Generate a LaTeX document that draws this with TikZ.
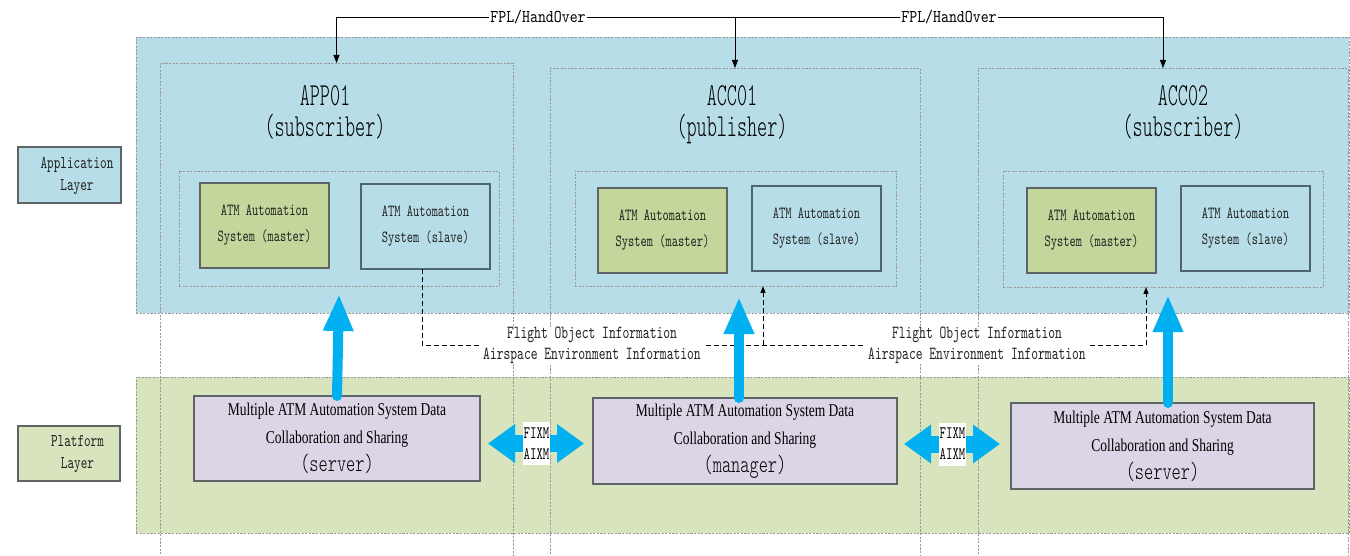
\documentclass[tikz,border=0pt]{standalone}
\usepackage{fontspec}
\usetikzlibrary{arrows.meta,calc}

% condensed typewriter and serif faces
\newfontfamily\fmono[Extension=.otf, FakeStretch=0.7]{lmmono10-regular}
\newfontfamily\ftitle[Extension=.otf, FakeStretch=0.6]{lmmonolt10-regular}
\newfontfamily\fbig[Extension=.otf, FakeStretch=0.7]{lmmonolt10-regular}
\newfontfamily\ffpl[Extension=.otf, FakeStretch=0.84]{lmmono10-regular}
\newfontfamily\fserif[FakeStretch=0.75]{Liberation Serif}

\definecolor{bandblue}{HTML}{B7DDE8}
\definecolor{bandgreen}{HTML}{D7E4BD}
\definecolor{mastergreen}{HTML}{C3D69B}
\definecolor{lavender}{HTML}{DBD5E5}
\definecolor{arrowcyan}{HTML}{00B0F0}
\definecolor{dashgray}{HTML}{999999}
\definecolor{edgegray}{HTML}{5F6466}
\definecolor{slateedge}{HTML}{4E6470}
\definecolor{inkgray}{HTML}{222222}

\begin{document}
\begin{tikzpicture}[x=1pt,y=-1pt,
  box/.style={anchor=north west, inner sep=0pt, outer sep=0pt, align=center},
  dashbox/.style={box, draw=dashgray, line width=0.7pt, dash pattern=on 2.2pt off 1.4pt},
  master/.style={box, fill=mastergreen, draw=edgegray, line width=1.1pt, text=inkgray,
    minimum width=129pt, minimum height=85pt, font=\fmono\fontsize{17}{26}\selectfont},
  slave/.style={box, fill=bandblue, draw=slateedge, line width=1.1pt, text=inkgray,
    minimum width=129pt, minimum height=85pt, font=\fmono\fontsize{17}{26}\selectfont},
  platbox/.style={box, fill=lavender, draw=edgegray, line width=1.1pt,
    minimum width=290pt, minimum height=85pt, font=\fserif\fontsize{18}{28}\selectfont},
  layerbox/.style={box, draw=edgegray, line width=1.1pt, minimum width=103pt, minimum height=56pt},
  layertext/.style={align=center, inner sep=0pt, text=inkgray, font=\fmono\fontsize{18}{22}\selectfont},
  titletext/.style={anchor=base, inner sep=0pt, font=\ftitle\fontsize{32}{33}\selectfont},
  fpllabel/.style={fill=white, inner sep=1.5pt, font=\ffpl\fontsize{18}{22}\selectfont},
  link/.style={black, line width=0.9pt},
  linktip/.style={link, -{Triangle[width=6pt,length=8pt]}},
  infoline/.style={black, line width=1pt, dash pattern=on 5pt off 3pt},
  infotip/.style={infoline, -{Triangle[width=5pt,length=7pt]}},
  infolabel/.style={fill=white, align=center, inner sep=0pt, minimum width=222pt, text=inkgray,
    font=\fmono\fontsize{18.5}{21}\selectfont},
  uparrow/.style={draw=arrowcyan, line width=10pt, line cap=round,
    -{Triangle[width=28pt,length=37pt]}},
  dblarrow/.style={draw=arrowcyan, line width=17pt,
    {Triangle[width=37pt,length=27pt]}-{Triangle[width=37pt,length=27pt]}},
  fixm/.style={fill=white, align=center, inner xsep=0.3pt, inner ysep=0pt,
    minimum width=27pt, minimum height=43pt, font=\fmono\fontsize{17.5}{21}\selectfont}
]
\useasboundingbox (0,0) rectangle (1350,556);
\clip (0,0) rectangle (1350,556);

% layer bands
\node[dashbox, fill=bandblue, minimum width=1213pt, minimum height=276pt] (appband) at (136,37) {};
\node[dashbox, fill=bandgreen, minimum width=1213pt, minimum height=156pt] (platband) at (136,377) {};

% one column per centre, running through both layers
\node[dashbox, minimum width=353pt, minimum height=540pt] (col1) at (160,63) {};
\node[dashbox, minimum width=370pt, minimum height=540pt] (col2) at (550,68) {};
\node[dashbox, minimum width=370pt, minimum height=540pt] (col3) at (978,68) {};

% centre titles
\node[titletext] (t1a) at (325,106) {APP01};
\node[titletext] (t1b) at (325,137) {(subscriber)};
\node[titletext] (t2a) at (732,106) {ACC01};
\node[titletext] (t2b) at (732,137) {(publisher)};
\node[titletext] (t3a) at (1183,106) {ACC02};
\node[titletext] (t3b) at (1183,137) {(subscriber)};

% master/slave groups
\node[dashbox, minimum width=320pt, minimum height=115pt] (in1) at (179,171) {};
\node[dashbox, minimum width=321pt, minimum height=115pt] (in2) at (575,171) {};
\node[dashbox, minimum width=320pt, minimum height=116pt] (in3) at (1003,171) {};

\node[master] (m1) at (200,183) {ATM Automation\\System (master)};
\node[slave]  (s1) at (361,184) {ATM Automation\\System (slave)};
\node[master] (m2) at (598,188) {ATM Automation\\System (master)};
\node[slave]  (s2) at (752,186) {ATM Automation\\System (slave)};
\node[master] (m3) at (1027,188) {ATM Automation\\System (master)};
\node[slave]  (s3) at (1181,186) {ATM Automation\\System (slave)};

% layer captions
\node[layerbox, fill=bandblue] (applayer) at (18,147) {};
\node[layertext] (applayertext) at ($(applayer.center)+(7.5,1)$) {Application\\Layer};
\node[layerbox, fill=bandgreen, minimum width=102pt, minimum height=55pt] (platlayer) at (18,426) {};
\node[layertext] (platlayertext) at ($(platlayer.center)+(8.5,0)$) {Platform\\Layer};

% platform services
\node[platbox, minimum width=286pt] (srv1) at (194,396)
  {Multiple ATM Automation System Data\\Collaboration and Sharing\\{\fbig\fontsize{25}{28}\selectfont(server)}};
\node[platbox, minimum width=304pt, minimum height=86pt] (mgr) at (593,398)
  {Multiple ATM Automation System Data\\Collaboration and Sharing\\{\fbig\fontsize{25}{28}\selectfont(manager)}};
\node[platbox, minimum width=303pt, minimum height=86pt] (srv2) at (1011,403)
  {Multiple ATM Automation System Data\\Collaboration and Sharing\\{\fbig\fontsize{25}{28}\selectfont(server)}};

% flight plan hand-over between centres
\node[fpllabel] (fpl1) at (538,17) {FPL/HandOver};
\node[fpllabel] (fpl2) at (949,17) {FPL/HandOver};
\draw[linktip] (fpl1.west) -| (col1.north);
\draw[link] (fpl1.east) -- (fpl2.west);
\draw[linktip] (fpl2.east) -| (col3.north);
\draw[linktip] (col2.north |- fpl1.center) -- (col2.north);

% flight object / airspace information flow
\coordinate (infoA) at (763,345);
\coordinate (infoB) at (1146,345);
\draw[infoline] (s1.south -| 422,0) |- (infoB);
\draw[infotip] (infoA) -- (in2.south -| infoA);
\draw[infotip] (infoB) -- (in3.south -| infoB);
\node[infolabel] (info1) at (592,345.5) {Flight Object Information\\Airspace Environment Information};
\node[infolabel] (info2) at (977,345.5) {Flight Object Information\\Airspace Environment Information};

% platform to application
\coordinate (up2) at (739,297);
\coordinate (up3) at (1168,295);
\draw[uparrow] (srv1.north) -- ([yshift=-8pt]in1.south);
\draw[uparrow] (mgr.north -| up2) -- (up2);
\draw[uparrow] (srv2.north -| up3) -- (up3);

% exchange between platform services
\coordinate (x1) at (536.5,443.5);
\coordinate (x2) at (952.5,444);
\draw[dblarrow] (srv1.east |- x1) ++(8,0) -- ($(mgr.west |- x1)+(-9,0)$);
\draw[dblarrow] (mgr.east |- x2) ++(7,0) -- ($(srv2.west |- x2)+(-11,0)$);
\node[fixm] (fx1) at (x1) {FIXM\\AIXM};
\node[fixm] (fx2) at (x2) {FIXM\\AIXM};
\end{tikzpicture}
\end{document}
